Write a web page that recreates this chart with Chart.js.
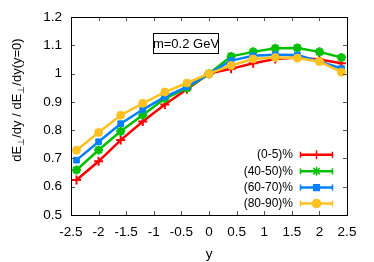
<!DOCTYPE html>
<html>
<head>
<meta charset="utf-8">
<script src="https://cdn.jsdelivr.net/npm/chart.js@4.4.1/dist/chart.umd.min.js"></script>
<style>
  body { margin: 0; background: #fff; }
  #wrap { width: 374px; height: 262px; }
</style>
</head>
<body>
<div id="wrap"><canvas id="chart" width="374" height="262"></canvas></div>
<script>
// DATA

const rapidity = [-2.4, -2.0, -1.6, -1.2, -0.8, -0.4, 0, 0.4, 0.8, 1.2, 1.6, 2.0, 2.4];

const cent0_5   = [0.624, 0.690, 0.765, 0.831, 0.891, 0.945, 1.0, 1.017, 1.037, 1.052, 1.057, 1.050, 1.037];
const cent40_50 = [0.659, 0.730, 0.796, 0.854, 0.912, 0.949, 1.0, 1.061, 1.077, 1.090, 1.091, 1.077, 1.057];
const cent60_70 = [0.694, 0.759, 0.823, 0.873, 0.918, 0.953, 1.0, 1.046, 1.063, 1.067, 1.066, 1.043, 1.018];
const cent80_90 = [0.729, 0.792, 0.853, 0.895, 0.935, 0.967, 1.0, 1.029, 1.052, 1.057, 1.055, 1.043, 1.005];

const seriesLabels = ["(0-5)%", "(40-50)%", "(60-70)%", "(80-90)%"];

const xTicks = [-2.5, -2, -1.5, -1, -0.5, 0, 0.5, 1, 1.5, 2, 2.5];
const yTicks = [0.5, 0.6, 0.7, 0.8, 0.9, 1, 1.1, 1.2];

const FONT = "'Liberation Sans', Arial, sans-serif";

function toPoints(ys){
  return rapidity.map((x, i) => ({ x: x, y: ys[i] }));
}

const styles = [
  { color: "#ff0000", point: "cross", radius: 4.5, bw: 2, fill: false },
  { color: "#00c000", point: "star", radius: 4.5, bw: 2.5, fill: false },
  { color: "#0080ff", point: "rect", radius: 4, bw: 1, fill: true },
  { color: "#ffc020", point: "circle", radius: 4, bw: 1, fill: true }
];

const allSeries = [cent0_5, cent40_50, cent60_70, cent80_90];

const datasets = allSeries.map((s, i) => ({
  label: seriesLabels[i],
  data: toPoints(s),
  borderColor: styles[i].color,
  backgroundColor: styles[i].color,
  pointBackgroundColor: styles[i].color,
  pointBorderColor: styles[i].color,
  pointStyle: styles[i].point,
  pointRadius: styles[i].radius,
  pointBorderWidth: styles[i].bw,
  borderWidth: 2.5,
  showLine: true,
  fill: false,
  tension: 0,
  order: 4 - i
}));

// FRAME, INNER TICKS, LABEL, BOX, LEGEND

const decor = {
  id: "decor",
  afterDatasetsDraw(chart){
    const ctx = chart.ctx;
    const a = chart.chartArea;
    const xs = chart.scales.x;
    const ys = chart.scales.y;

    ctx.save();
    ctx.lineWidth = 1;

    // ticks on all four sides, pointing inward
    ctx.strokeStyle = "#555";
    ctx.beginPath();
    xTicks.forEach(v => {
      const px = Math.round(xs.getPixelForValue(v)) + 0.5;
      ctx.moveTo(px, a.bottom); ctx.lineTo(px, a.bottom - 4);
      ctx.moveTo(px, a.top); ctx.lineTo(px, a.top + 4);
    });
    yTicks.forEach(v => {
      const py = Math.round(ys.getPixelForValue(v)) + 0.5;
      ctx.moveTo(a.left, py); ctx.lineTo(a.left + 4, py);
      ctx.moveTo(a.right, py); ctx.lineTo(a.right - 4, py);
    });
    ctx.stroke();

    ctx.strokeStyle = "#000";
    ctx.strokeRect(Math.round(a.left) + 0.5, Math.round(a.top) + 0.5,
      Math.round(a.right - a.left), Math.round(a.bottom - a.top));

    // key box
    ctx.fillStyle = "#fff";
    ctx.fillRect(153.5, 33.5, 65, 20);
    ctx.strokeRect(153.5, 33.5, 65, 20);
    ctx.fillStyle = "#000";
    ctx.font = "13px " + FONT;
    ctx.textAlign = "center";
    ctx.textBaseline = "middle";
    ctx.fillText("m=0.2 GeV", 186, 44);

    // legend
    const rows = [154.7, 171.2, 187.6, 203.5];
    ctx.textAlign = "right";
    rows.forEach((ry, i) => {
      const st = styles[i];
      ctx.fillStyle = "#000";
      ctx.font = "12px " + FONT;
      ctx.fillText(seriesLabels[i], 293, ry);
      ctx.strokeStyle = st.color;
      ctx.lineWidth = 2.5;
      ctx.beginPath();
      ctx.moveTo(300, ry); ctx.lineTo(333, ry);
      ctx.stroke();
      ctx.lineWidth = 1.5;
      ctx.beginPath();
      ctx.moveTo(300.5, ry - 3); ctx.lineTo(300.5, ry + 3);
      ctx.moveTo(332.5, ry - 3); ctx.lineTo(332.5, ry + 3);
      ctx.stroke();
      Chart.helpers.drawPoint(ctx, {
        pointStyle: st.point,
        radius: st.radius,
        borderWidth: st.bw
      }, 316.5, ry);
      ctx.fillStyle = st.color;
      ctx.lineWidth = st.bw;
      if (st.fill) ctx.fill();
    });

    ctx.restore();
  },
  afterDraw(chart){
    // y axis label with subscript ⊥
    const ctx = chart.ctx;
    ctx.save();
    ctx.translate(16, 100);
    ctx.rotate(-Math.PI / 2);
    ctx.fillStyle = "#000";
    ctx.textBaseline = "alphabetic";
    ctx.textAlign = "left";
    const parts = [
      ["dE", 13, 0], ["⊥", 9, 3], ["/dy / dE", 13, 0], ["⊥", 9, 3], ["/dy(y=0)", 13, 0]
    ];
    let total = 0;
    parts.forEach(p => { ctx.font = p[1] + "px " + FONT; total += ctx.measureText(p[0]).width; });
    let x = -total / 2;
    parts.forEach(p => {
      ctx.font = p[1] + "px " + FONT;
      ctx.fillText(p[0], x, 5 + p[2]);
      x += ctx.measureText(p[0]).width;
    });
    ctx.restore();
  }
};

new Chart(document.getElementById("chart"), {
  type: "scatter",
  data: { datasets: datasets },
  options: {
    responsive: false,
    animation: false,
    layout: { padding: { left: 0, right: 27, top: 14, bottom: 0 } },
    plugins: {
      legend: { display: false },
      tooltip: { enabled: false }
    },
    scales: {
      x: {
        type: "linear",
        min: -2.5,
        max: 2.5,
        afterBuildTicks: s => { s.ticks = xTicks.map(v => ({ value: v })); },
        afterFit: s => { s.height = 47; },
        grid: { display: false, drawTicks: false },
        border: { display: false },
        ticks: {
          color: "#000",
          font: { family: FONT, size: 13.5 },
          padding: 9,
          maxRotation: 0,
          autoSkip: false,
          callback: v => String(v)
        },
        title: {
          display: true,
          text: "y",
          color: "#000",
          font: { family: FONT, size: 13.5 },
          padding: { top: 3, bottom: 0 }
        }
      },
      y: {
        type: "linear",
        min: 0.5,
        max: 1.2,
        afterBuildTicks: s => { s.ticks = yTicks.map(v => ({ value: v })); },
        afterFit: s => { s.width = 71; },
        grid: { display: false, drawTicks: false },
        border: { display: false },
        ticks: {
          color: "#000",
          font: { family: FONT, size: 13.5 },
          padding: 9,
          autoSkip: false,
          callback: v => String(v)
        }
      }
    }
  },
  plugins: [decor]
});
</script>
</body>
</html>
